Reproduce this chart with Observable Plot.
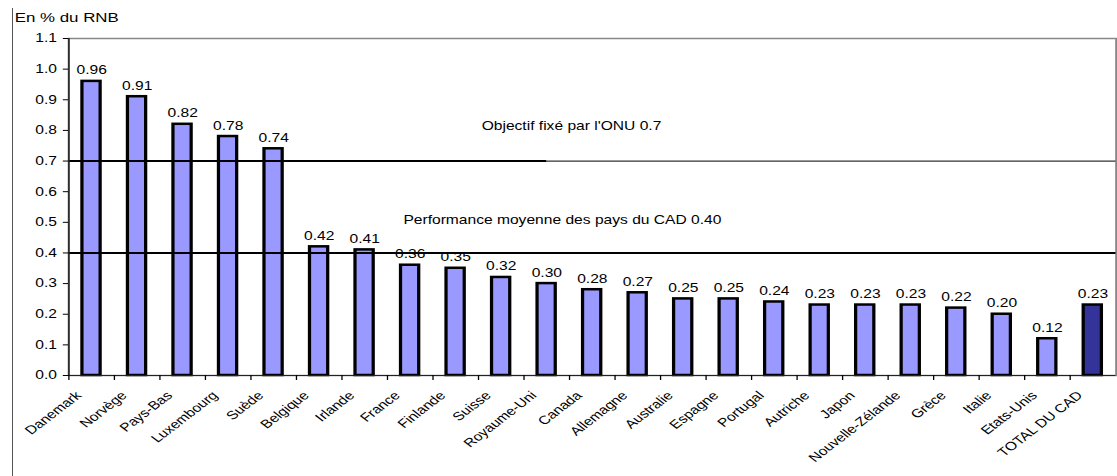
<!DOCTYPE html>
<html><head><meta charset="utf-8">
<script src="https://cdn.jsdelivr.net/npm/d3@7"></script>
<script src="https://cdn.jsdelivr.net/npm/@observablehq/plot@0.6"></script>
<style>
body{margin:0;background:#fff;}
#wrap{position:relative;width:1117px;height:476px;overflow:hidden;}
#edge{position:absolute;left:12px;top:8px;width:1px;height:468px;background:#555;}
</style></head><body><div id="wrap"><div id="edge"></div></div>
<script>
const countries = ["Danemark","Norvège","Pays-Bas","Luxembourg","Suède","Belgique","Irlande","France","Finlande","Suisse","Royaume-Uni","Canada","Allemagne","Australie","Espagne","Portugal","Autriche","Japon","Nouvelle-Zélande","Grèce","Italie","Etats-Unis","TOTAL DU CAD"];
const values = [0.96,0.91,0.82,0.78,0.74,0.42,0.41,0.36,0.35,0.32,0.30,0.28,0.27,0.25,0.25,0.24,0.23,0.23,0.23,0.22,0.20,0.12,0.23];
const totalLabel = "TOTAL DU CAD";
const yTicks = [0,0.1,0.2,0.3,0.4,0.5,0.6,0.7,0.8,0.9,1.0,1.1];
const onuTarget = 0.7;
const cadAverage = 0.40;
const onuLineEnd = "Royaume-Uni";
const yLabel = "En % du RNB";
const onuText = "Objectif fixé par l'ONU 0.7";
const cadText = "Performance moyenne des pays du CAD 0.40";

const data = countries.map((c, i) => ({country: c, value: values[i], total: c === totalLabel}));

const S = 1.3;
const W = Math.round(1117 / S);
const ML = 68 / S, MR = 1.5 / S;
const PI = 0.6, PO = PI / 2;
const step = (W - ML - MR) / countries.length;
const barW = step * (1 - PI);

const chart = Plot.plot({
  width: W, height: 476,
  marginLeft: ML, marginRight: MR, marginTop: 38, marginBottom: 101,
  style: {fontFamily: "'Liberation Sans', Arial, sans-serif", fontSize: "12px", color: "#000", background: "#fff"},
  x: {domain: countries, paddingInner: PI, paddingOuter: PO, label: null, axis: null},
  y: {domain: [0, 1.1], label: null, axis: null},
  color: {type: "identity"},
  marks: [
    Plot.frame({stroke: "#888", strokeWidth: 1.5}),
    Plot.barY(data, {x: "country", y: "value", fill: d => d.total ? "#333399" : "#9999ff", stroke: "#000", strokeWidth: 2.5}),
    Plot.ruleY([onuTarget], {stroke: "#333", strokeWidth: 1.3}),
    Plot.ruleY([onuTarget], {x1: () => countries[0], x2: () => onuLineEnd, insetLeft: -step * PO, insetRight: barW / 2, stroke: "#000", strokeWidth: 2}),
    Plot.ruleY([cadAverage], {stroke: "#000", strokeWidth: 2}),
    Plot.ruleX([countries[0]], {y1: 0, y2: 1.1, dx: -step / 2, stroke: "#222", strokeWidth: 1.2}),
    Plot.ruleY([0], {stroke: "#222", strokeWidth: 1.2}),
    Plot.axisY({ticks: yTicks, tickFormat: d => d.toFixed(1), tickSize: 4, tickPadding: 5, fontSize: 12, label: null}),
    Plot.axisX({tickSize: 5, tickFormat: () => "", dx: -step / 2, label: null}),
    Plot.axisX({tickSize: 0, tickRotate: -45, tickPadding: 6, dx: -10, dy: 12, fontSize: 12, label: null}),
    Plot.text(data, {x: "country", y: "value", text: d => d.value.toFixed(2), dy: -7, lineAnchor: "bottom", fontSize: 12}),
    Plot.text([onuText], {x: () => onuLineEnd, y: () => 0.815, dx: 19, fontSize: 12}),
    Plot.text([cadText], {x: () => onuLineEnd, y: () => 0.506, dx: 12, fontSize: 12}),
    Plot.text([yLabel], {frameAnchor: "top-left", dx: -(ML - 14 / S), dy: -26, fontSize: 13})
  ]
});

chart.setAttribute("width", 1117);
chart.setAttribute("height", 476);
chart.setAttribute("preserveAspectRatio", "none");
chart.style.width = "1117px";
chart.style.height = "476px";
chart.style.maxWidth = "none";
chart.style.display = "block";
document.getElementById("wrap").appendChild(chart);
</script>
</body></html>
